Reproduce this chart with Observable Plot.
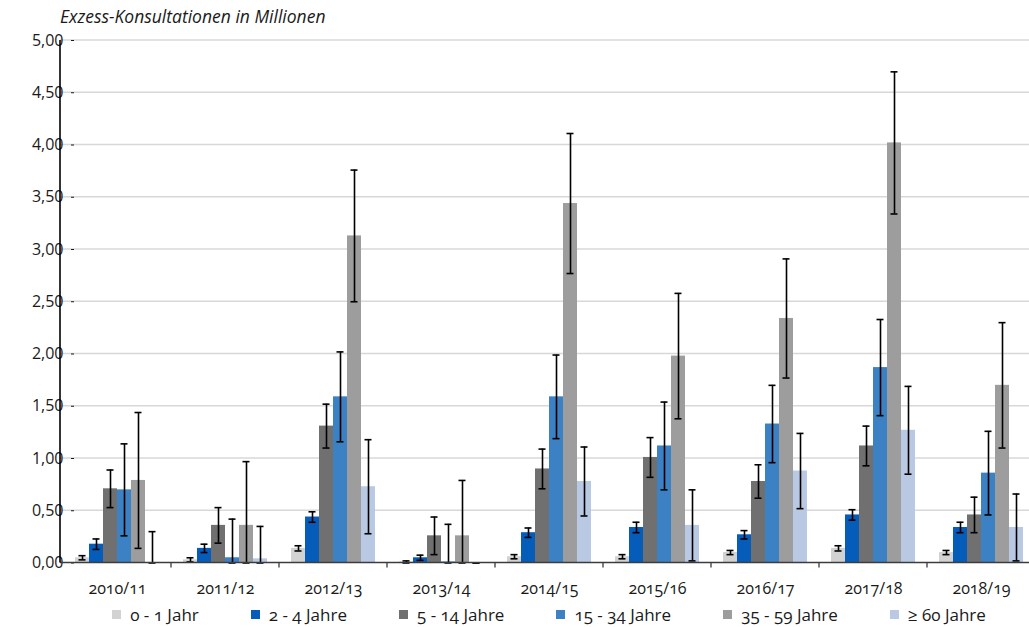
<!DOCTYPE html>
<html lang="de">
<head>
<meta charset="utf-8">
<script src="https://cdn.jsdelivr.net/npm/d3@7"></script>
<script src="https://cdn.jsdelivr.net/npm/@observablehq/plot@0.6"></script>
<style>
  body { margin: 0; background: #fff; font-family: "Open Sans", sans-serif; color: #1a1a1a; font-variant-numeric: oldstyle-nums; }
  #title { position: absolute; left: 60px; top: 4px; font-style: italic; font-size: 17.5px; line-height: 24px; }
  #chart { position: absolute; left: 0; top: 30px; }
  #legend { position: absolute; left: 60px; width: 978px; top: 603px; display: flex; justify-content: center; gap: 52px; font-size: 17px; line-height: 23px; }
  #legend .item { display: flex; align-items: center; white-space: nowrap; }
  #legend .sw { width: 9px; height: 9px; margin-right: 9px; }
</style>
</head>
<body>
<div id="title">Exzess-Konsultationen in Millionen</div>
<div id="chart"></div>
<div id="legend"></div>
<script>
// Saisons und Altersgruppen
const seasons = ["2010/11", "2011/12", "2012/13", "2013/14", "2014/15", "2015/16", "2016/17", "2017/18", "2018/19"];
const ageGroups = ["0 - 1 Jahr", "2 - 4 Jahre", "5 - 14 Jahre", "15 - 34 Jahre", "35 - 59 Jahre", "≥ 60 Jahre"];
const groupColors = ["#d2d2d2", "#055cb9", "#6f706f", "#3b81c4", "#9c9d9c", "#b9c9e3"];

// Exzess-Konsultationen (Mio.) je Saison, mit halber Breite des Konfidenzintervalls
const v0_1   = [0.05, 0.03, 0.14, 0.01, 0.06, 0.06, 0.10, 0.14, 0.10];
const e0_1   = [0.02, 0.02, 0.025, 0.01, 0.02, 0.02, 0.02, 0.025, 0.02];
const v2_4   = [0.18, 0.14, 0.44, 0.05, 0.29, 0.34, 0.27, 0.46, 0.34];
const e2_4   = [0.05, 0.04, 0.05, 0.025, 0.045, 0.05, 0.04, 0.05, 0.05];
const v5_14  = [0.71, 0.36, 1.31, 0.26, 0.90, 1.01, 0.78, 1.12, 0.46];
const e5_14  = [0.18, 0.17, 0.21, 0.18, 0.19, 0.19, 0.16, 0.19, 0.17];
const v15_34 = [0.70, 0.05, 1.59, 0.01, 1.59, 1.12, 1.33, 1.87, 0.86];
const e15_34 = [0.44, 0.37, 0.43, 0.36, 0.40, 0.42, 0.37, 0.46, 0.40];
const v35_59 = [0.79, 0.36, 3.13, 0.26, 3.44, 1.98, 2.34, 4.02, 1.70];
const e35_59 = [0.65, 0.61, 0.63, 0.53, 0.67, 0.60, 0.57, 0.68, 0.60];
const v60    = [0.00, 0.04, 0.73, 0.00, 0.78, 0.36, 0.88, 1.27, 0.34];
const e60    = [0.30, 0.31, 0.45, 0.00, 0.33, 0.34, 0.36, 0.42, 0.32];

const yTicks = [0, 0.5, 1, 1.5, 2, 2.5, 3, 3.5, 4, 4.5, 5];

const seriesValues = [v0_1, v2_4, v5_14, v15_34, v35_59, v60];
const seriesErrors = [e0_1, e2_4, e5_14, e15_34, e35_59, e60];

const rows = [];
seasons.forEach((season, i) => {
  ageGroups.forEach((group, j) => {
    const value = seriesValues[j][i];
    const err = seriesErrors[j][i];
    rows.push({season, group, value, lo: Math.max(0, value - err), hi: value + err});
  });
});

const fmt = d => d.toFixed(2).replace(".", ",");

const chart = Plot.plot({
  width: 1029,
  height: 570,
  marginLeft: 60,
  marginRight: -9,
  marginTop: 10,
  marginBottom: 37.5,
  style: {fontFamily: "'Open Sans', sans-serif", fontSize: "16px", color: "#1a1a1a", overflow: "visible", fontVariantNumeric: "oldstyle-nums"},
  fx: {domain: seasons, paddingInner: 0.2, paddingOuter: 0.1, label: null, tickSize: 0, tickPadding: 20},
  x: {domain: ageGroups, padding: 0, axis: null},
  y: {domain: [0, 5], ticks: yTicks, tickFormat: fmt, label: null, tickSize: 3, tickPadding: 8},
  color: {domain: ageGroups, range: groupColors},
  marks: [
    Plot.barY(rows, {fx: "season", x: "group", y: "value", fill: "group"}),
    Plot.ruleX(rows, {fx: "season", x: "group", y1: "lo", y2: "hi", stroke: "#000", strokeWidth: 1.6}),
    Plot.tickY(rows, {fx: "season", x: "group", y: "lo", stroke: "#000", strokeWidth: 1.6, insetLeft: 3.5, insetRight: 3.5}),
    Plot.tickY(rows, {fx: "season", x: "group", y: "hi", stroke: "#000", strokeWidth: 1.6, insetLeft: 3.5, insetRight: 3.5})
  ]
});

// Durchgehende Gitterlinien, Achsenlinien und Gruppentrenner aus den Skalen des Diagramms
const svg = d3.select(chart);
const yScale = chart.scale("y");
const fxScale = chart.scale("fx");
const [x0, x1] = fxScale.range;
const gap = (fxScale.step - fxScale.bandwidth) / 2;

const grid = svg.insert("g", "g").attr("stroke", "#d8d8d8").attr("stroke-width", 1.4);
yTicks.filter(t => t > 0).forEach(t => {
  grid.append("line").attr("x1", x0).attr("x2", x1).attr("y1", yScale.apply(t)).attr("y2", yScale.apply(t));
});

const axes = svg.append("g");
axes.append("line")
  .attr("x1", x0).attr("x2", x1)
  .attr("y1", yScale.apply(0)).attr("y2", yScale.apply(0))
  .attr("stroke", "#3c3c3c").attr("stroke-width", 1.5);
seasons.forEach(s => {
  const bx = fxScale.apply(s) + fxScale.bandwidth + gap;
  axes.append("line")
    .attr("x1", bx).attr("x2", bx)
    .attr("y1", yScale.apply(0)).attr("y2", yScale.apply(0) + 5)
    .attr("stroke", "#3c3c3c").attr("stroke-width", 1.3);
});
axes.append("line")
  .attr("x1", x0).attr("x2", x0)
  .attr("y1", yScale.apply(5)).attr("y2", yScale.apply(0))
  .attr("stroke", "#000").attr("stroke-width", 1.6);

document.getElementById("chart").append(chart);

// Legende
const legend = d3.select("#legend");
ageGroups.forEach((g, i) => {
  const item = legend.append("div").attr("class", "item");
  item.append("div").attr("class", "sw").style("background", groupColors[i]);
  item.append("span").text(g);
});
</script>
</body>
</html>
